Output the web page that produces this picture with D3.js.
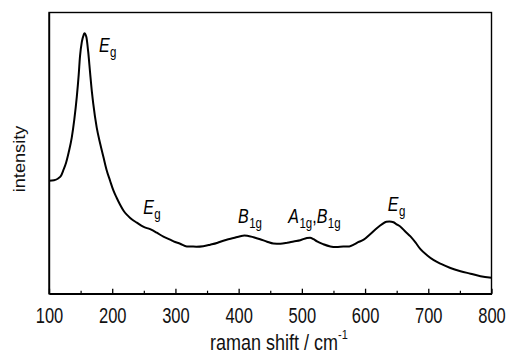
<!DOCTYPE html>
<html>
<head>
<meta charset="utf-8">
<script src="https://cdn.jsdelivr.net/npm/d3@7"></script>
<style>
  html, body { margin: 0; padding: 0; background: #fff; }
  svg { display: block; font-family: "Liberation Sans", Arial, sans-serif; }
</style>
</head>
<body>
<svg id="chart" width="510" height="357"></svg>
<script>
// Raman shift (cm^-1)
const ramanShift = [100,108,115,119,123,127,131,136,140,144,147,149,152,155,156,159,162,165,168,170,175.5,181,186,191,196.6,202,207,212.5,218,223,228,233,239,249,260,270.5,281,291.6,297,307.5,318,323,333,344,355,365.6,371,381,392,402.5,409,413.6,423.6,434,445,455,466,477,487,497.5,508,513,518.6,524,534,545,554.5,565.6,575,582,589,597.8,608,619,627,633.7,638.5,645,650.7,656,664,671.8,680,687.6,698,708.7,721,735,751,766.8,782.6,800];
// Intensity (arbitrary units)
const intensity = [113,113.5,115.5,118,124,131,141,156,174,197,219,237,252,259,260.5,257,242,221,201,190,166,150,137,124,113,103,96,89,83,79,76,73.5,71,67,64.5,61,57,54,52.3,50,47.3,47.3,47,47.5,49,50.7,52,54,55.7,57.5,58.2,58,56.5,54.5,52,50.2,50,51,52.3,53.5,55.7,56,54.5,52.3,49.5,47.3,46.7,47.2,47.3,49,51.5,54,59.5,65.7,69.5,72,72.3,71.5,69,67,62,57.3,51,44.5,38.5,33.5,29.5,25.7,22.5,20,17.5,16];

const xTicks = [100,200,300,400,500,600,700,800];
const xMinorTicks = [150,250,350,450,550,650,750];

// Peak labels: main symbol, subscript, anchored at (shift, intensity)
const labelShift = [179, 249, 399, 478.5, 636];
const labelIntensity = [242, 79.5, 71, 71, 82.7];
const labelParts = [
  [["E","g"]],
  [["E","g"]],
  [["B","1g"]],
  [["A","1g"],["B","1g"]],
  [["E","g"]]
];

const W = 510, H = 357;
const margin = {left: 49, right: 18.5, top: 12.5, bottom: 63.3};
const svg = d3.select("#chart");
const x = d3.scaleLinear().domain([100, 800]).range([margin.left, W - margin.right]);
const y = d3.scaleLinear().domain([0, 281.2]).range([H - margin.bottom, margin.top]);

// frame (top & right lines without ticks)
svg.append("rect")
  .attr("x", margin.left).attr("y", margin.top)
  .attr("width", W - margin.left - margin.right)
  .attr("height", H - margin.top - margin.bottom)
  .attr("fill", "none").attr("stroke", "#000").attr("stroke-width", 1.4);

// bottom axis major
const gx = svg.append("g").attr("transform", `translate(0,${H - margin.bottom})`)
  .call(d3.axisBottom(x).tickValues(xTicks).tickSizeInner(-5).tickSizeOuter(0).tickFormat(d3.format("d")));
gx.select(".domain").attr("stroke-width", 1.4);
gx.selectAll(".tick line").attr("stroke-width", 1.3);
gx.selectAll(".tick text")
  .attr("y", 0).attr("dy", 0)
  .attr("transform", "translate(0,29) scale(1,1.3)")
  .attr("font-size", 16.5)
  .attr("font-family", "'Liberation Sans', Arial, sans-serif")
  .attr("fill", "#111");
// minor ticks
const gxm = svg.append("g").attr("transform", `translate(0,${H - margin.bottom})`)
  .call(d3.axisBottom(x).tickValues(xMinorTicks).tickSizeInner(-3).tickSizeOuter(0).tickFormat(""));
gxm.select(".domain").remove();
gxm.selectAll(".tick line").attr("stroke-width", 1.2);

// left axis line (no ticks)
const gy = svg.append("g").attr("transform", `translate(${margin.left},0)`)
  .call(d3.axisLeft(y).tickValues([]).tickSizeOuter(0));
gy.select(".domain").attr("stroke-width", 1.4);

// curve
const pts = ramanShift.map((d, i) => [d, intensity[i]]);
svg.append("path")
  .datum(pts)
  .attr("fill", "none")
  .attr("stroke", "#000")
  .attr("stroke-width", 2)
  .attr("stroke-linejoin", "round")
  .attr("d", d3.line().x(d => x(d[0])).y(d => y(d[1])).curve(d3.curveMonotoneX));

// peak labels
labelParts.forEach((parts, i) => {
  const t = svg.append("text")
    .attr("transform", `translate(${x(labelShift[i])},${y(labelIntensity[i])}) scale(1,1.25)`)
    .attr("font-size", 16).attr("fill", "#000");
  parts.forEach((p, j) => {
    if (j > 0) t.append("tspan").attr("dy", -4).attr("font-size", 16).text(",");
    t.append("tspan").attr("font-style", "italic").attr("font-size", 16).text(p[0]);
    t.append("tspan").attr("font-size", 11.5).attr("dy", 4).attr("dx", 0.5).text(p[1]);
  });
});

// axis titles
const xt = svg.append("text")
  .attr("transform", "translate(210,350) scale(1,1.2)")
  .attr("font-size", 18).attr("fill", "#111");
xt.append("tspan").text("raman shift / cm");
xt.append("tspan").attr("font-size", 11).attr("dy", -9.5).text("-1");

svg.append("text")
  .attr("transform", "translate(24.7,159) rotate(-90) scale(1.1,1)")
  .attr("text-anchor", "middle")
  .attr("font-size", 16.5).attr("fill", "#111")
  .text("intensity");
</script>
</body>
</html>
